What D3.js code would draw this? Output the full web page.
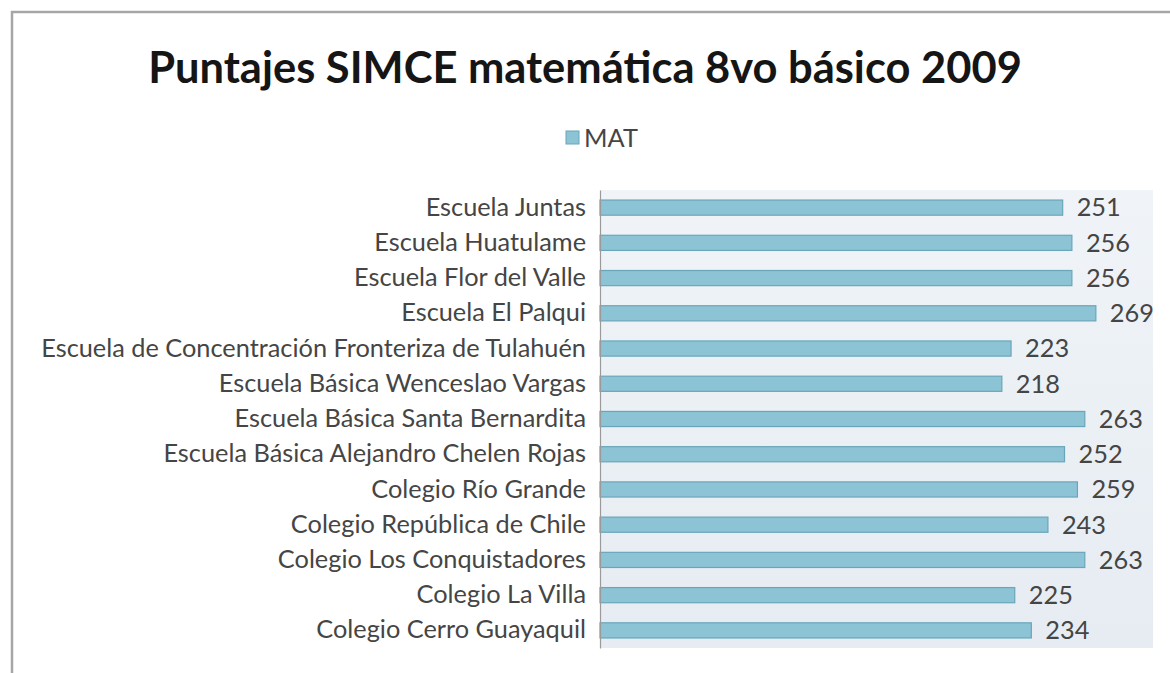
<!DOCTYPE html>
<html><head><meta charset="utf-8">
<script src="https://cdn.jsdelivr.net/npm/d3@7"></script>
<style>html,body{margin:0;padding:0;background:#fff;}svg{display:block;}</style>
</head><body>
<svg id="chart" width="1170" height="673"></svg>
<script>
const title = "Puntajes SIMCE matemática 8vo básico 2009";
const seriesName = "MAT";
const categories = [
  "Escuela Juntas",
  "Escuela Huatulame",
  "Escuela Flor del Valle",
  "Escuela El Palqui",
  "Escuela de Concentración Fronteriza de Tulahuén",
  "Escuela Básica Wenceslao Vargas",
  "Escuela Básica Santa Bernardita",
  "Escuela Básica Alejandro Chelen Rojas",
  "Colegio Río Grande",
  "Colegio República de Chile",
  "Colegio Los Conquistadores",
  "Colegio La Villa",
  "Colegio Cerro Guayaquil"
];
const values = [251, 256, 256, 269, 223, 218, 263, 252, 259, 243, 263, 225, 234];
const xDomain = [0, 300];

const svg = d3.select("#chart");
const font = "Lato, 'Open Sans', sans-serif";

// frame
svg.append("path").attr("d", "M12,673 V12 H1170")
  .attr("fill", "none").attr("stroke", "#a6a6a6").attr("stroke-width", 2.5);

const plot = {left: 600, right: 1153, top: 190, bottom: 648};

const defs = svg.append("defs");
const grad = defs.append("linearGradient").attr("id", "bg").attr("x1", 0).attr("y1", 0).attr("x2", 0).attr("y2", 1);
grad.append("stop").attr("offset", "0%").attr("stop-color", "#f0f4f8");
grad.append("stop").attr("offset", "100%").attr("stop-color", "#e6ecf2");

svg.append("rect").attr("x", plot.left).attr("y", plot.top)
  .attr("width", plot.right - plot.left).attr("height", plot.bottom - plot.top)
  .attr("fill", "url(#bg)");

const x = d3.scaleLinear().domain(xDomain).range([plot.left, plot.right]);
const y = d3.scaleBand().domain(categories).range([plot.top, plot.bottom]).paddingInner(0.57).paddingOuter(0.285);

svg.selectAll("rect.bar").data(categories).join("rect").attr("class", "bar")
  .attr("x", x(0)).attr("y", d => y(d))
  .attr("width", (d, i) => x(values[i]) - x(0)).attr("height", y.bandwidth())
  .attr("fill", "#8cc3d5").attr("stroke", "#6aa6ba").attr("stroke-width", 1.2);

// axis
const yAxis = svg.append("g").attr("transform", `translate(${plot.left},0)`)
  .call(d3.axisLeft(y).tickSize(0).tickPadding(14));
yAxis.select(".domain").attr("stroke", "#9a9a9a").attr("stroke-width", 1.2);
yAxis.selectAll("text").attr("font-family", font).attr("font-size", 18).attr("fill", "#454545");

// fit label widths
let longest = 0;
yAxis.selectAll("text").each(function(){ longest = Math.max(longest, this.getComputedTextLength()); });
const lblSize = 18 * 545 / longest;
yAxis.selectAll("text").attr("font-size", lblSize);

// value labels
svg.selectAll("text.val").data(categories).join("text").attr("class", "val")
  .attr("x", (d, i) => x(values[i]) + 14).attr("y", d => y(d) + y.bandwidth() / 2)
  .attr("dy", "0.35em").attr("font-family", font).attr("font-size", lblSize)
  .attr("fill", "#454545").text((d, i) => values[i]);

// title
const t = svg.append("text").attr("x", 585).attr("y", 83).attr("text-anchor", "middle")
  .attr("font-family", font).attr("font-weight", "bold").attr("font-size", 36)
  .attr("fill", "#151515").text(title);
const tw = t.node().getComputedTextLength();
t.attr("font-size", 36 * 874 / tw);

// legend
svg.append("rect").attr("x", 566).attr("y", 131).attr("width", 13).attr("height", 13)
  .attr("fill", "#8cc3d5").attr("stroke", "#6aa6ba").attr("stroke-width", 1);
svg.append("text").attr("x", 584).attr("y", 138).attr("dy", "0.35em")
  .attr("font-family", font).attr("font-size", lblSize).attr("fill", "#454545").text(seriesName);
</script>
</body></html>
